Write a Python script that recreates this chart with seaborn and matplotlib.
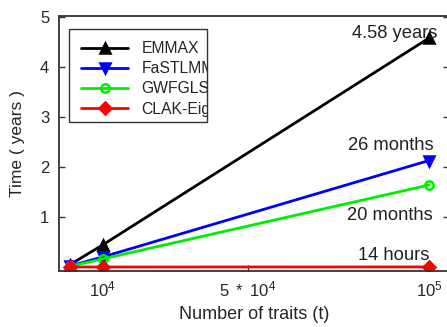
import matplotlib
matplotlib.use('Agg')
import matplotlib.pyplot as plt
from matplotlib.patches import Rectangle
import seaborn as sns
import numpy as np
import pandas as pd

# number of traits and run time (years) per method
traits = [1000, 10000, 100000]
emmax = [0.046, 0.44, 4.58]
fastlmm = [0.02, 0.2, 2.13]
gwfgls = [0.016, 0.16, 1.64]
clak = [0.0, 0.0, 0.0016]

methods = ['EMMAX', 'FaSTLMM', 'GWFGLS', 'CLAK-Eig']
colors = ['black', 'blue', '#00ee00', 'red']
end_labels = ['4.58 years', '26 months', '20 months', '14 hours']

sns.set_style('ticks')
plt.rcParams['font.family'] = ['Liberation Sans', 'DejaVu Sans']
plt.rcParams['mathtext.fontset'] = 'custom'
plt.rcParams['mathtext.rm'] = 'Liberation Sans'
plt.rcParams['mathtext.it'] = 'Liberation Sans'

fig = plt.figure(figsize=(4.47, 3.27), dpi=100)
ax = fig.add_axes([59 / 447, (327 - 271) / 327, (449 - 59) / 447, (271 - 16) / 327])

series = [emmax, fastlmm, gwfgls, clak]
markers = ['^', 'v', 'o', 'D']
msizes = [7, 7, 6, 6]
for name, vals, c, m, ms in zip(methods, series, colors, markers, msizes):
    face = 'none' if m == 'o' else c
    sns.lineplot(x=traits, y=vals, ax=ax, color=c, marker=m, markersize=ms,
                 markerfacecolor=face, markeredgecolor=c, markeredgewidth=1.8,
                 linewidth=2, label=name)

# labels at the last point
offsets = [(8, 4), (5, 15), (4, -30), (0, 11)]
for vals, txt, off in zip(series, end_labels, offsets):
    ax.annotate(txt, (traits[-1], vals[-1]), xytext=off, textcoords='offset pixels',
                ha='right', va='center', fontsize=13.2, color='#222222')

ax.set_xlim(-2000, 105500)
ax.set_ylim(-0.08, 5.02)
ax.set_xticks([10000, 50000, 100000])
ax.set_xticklabels([r'$10^4$', r'$5\ *\ 10^4$', r'$10^5$'])
ax.set_yticks([1, 2, 3, 4, 5])
ax.tick_params(axis='both', direction='in', length=4, width=1, labelsize=12,
               right=True, top=False, color='#333333')
ax.tick_params(axis='x', pad=6)
ax.tick_params(axis='y', pad=7)
for s in ax.spines.values():
    s.set_linewidth(1.3)
    s.set_color('#333333')

ax.set_xlabel('Number of traits (t)', fontsize=13, labelpad=5)
ax.set_ylabel('Time ( years )', fontsize=12.5, labelpad=11)

# legend box drawn by hand, narrower than the text (as in the original)
box = Rectangle((10 / 390, 149 / 255), 138 / 390, 93 / 255, transform=ax.transAxes,
                facecolor='white', edgecolor='#333333', linewidth=1.0, zorder=4.5)
ax.add_patch(box)
leg = ax.legend(loc='upper left', bbox_to_anchor=(22 / 390, 230 / 255),
                fontsize=11.3, frameon=False, borderaxespad=0, borderpad=0,
                handlelength=3.0, labelspacing=0.33, handletextpad=0.85)
leg.set_zorder(5)
for t in leg.get_texts():
    t.set_clip_on(True)
    t.set_clip_path(box)

plt.savefig('out.png', dpi=100)
plt.close()
